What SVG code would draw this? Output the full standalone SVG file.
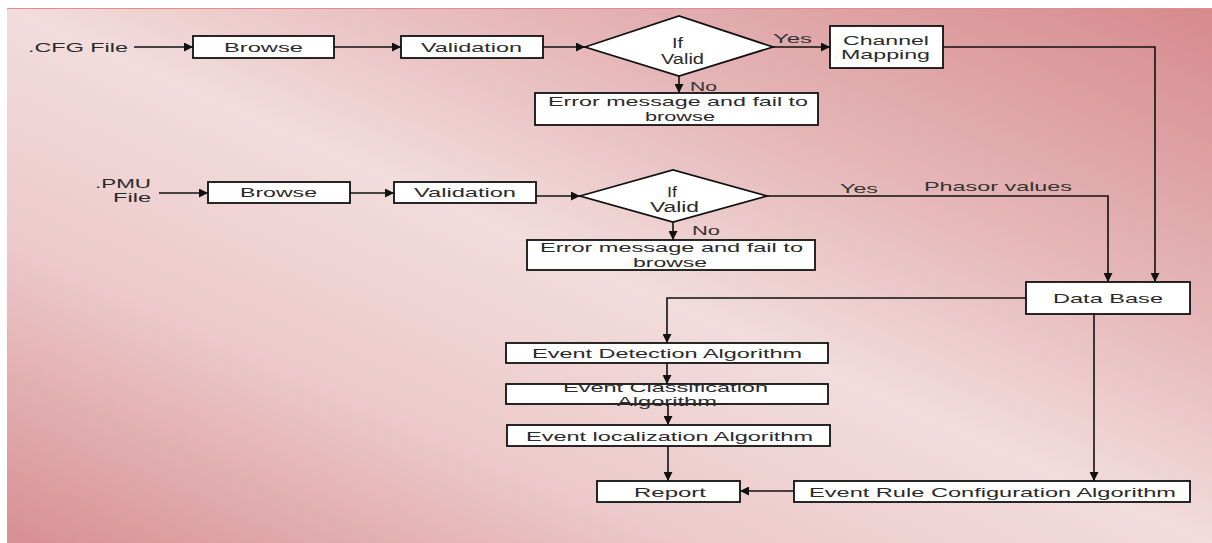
<svg xmlns="http://www.w3.org/2000/svg" width="1212" height="543" viewBox="0 0 1212 543">
<defs>
<linearGradient id="bg" x1="1" y1="0" x2="0" y2="1">
<stop offset="0" stop-color="#d68a8d"/>
<stop offset="0.3" stop-color="#e6b8b9"/>
<stop offset="0.5" stop-color="#f2dcdc"/>
<stop offset="0.72" stop-color="#ecc9ca"/>
<stop offset="1" stop-color="#d78f92"/>
</linearGradient>
<marker id="arr" viewBox="0 0 10 10" refX="10" refY="5" markerWidth="11" markerHeight="9" markerUnits="userSpaceOnUse" orient="auto">
<path d="M0,0 L10,5 L0,10 z" fill="#111"/>
</marker>
<style>
.box{fill:#fff;stroke:#111;stroke-width:1.8}
.conn{fill:none;stroke:#111;stroke-width:1.6}
text{font-family:"Liberation Sans",Arial,sans-serif;font-size:13px;fill:#2a2a2a}
.dia{font-size:14px}
.lbl{fill:#333}
</style>
</defs>
<rect x="0" y="0" width="1212" height="543" fill="#fff"/>
<rect x="7" y="8" width="1205" height="535" fill="url(#bg)"/>
<line x1="7" y1="8.5" x2="1212" y2="8.5" stroke="#df8d8f" stroke-width="1"/>

<g id="cfg-file"><text x="28" y="52" textLength="100" lengthAdjust="spacingAndGlyphs">.CFG File</text></g>
<g id="browse1"><rect class="box" x="193" y="36" width="141" height="22"/><text x="224" y="52" textLength="79" lengthAdjust="spacingAndGlyphs">Browse</text></g>
<g id="validation1"><rect class="box" x="401" y="36" width="142" height="22"/><text x="421" y="52" textLength="101" lengthAdjust="spacingAndGlyphs">Validation</text></g>
<g id="ifvalid1"><polygon class="box" points="585,47 679,16 773,47 679,76"/><text class="dia" x="672" y="48" textLength="11" lengthAdjust="spacingAndGlyphs">If</text><text class="dia" x="661" y="64" textLength="43" lengthAdjust="spacingAndGlyphs">Valid</text></g>
<g id="error1"><rect class="box" x="535" y="93" width="283" height="32"/><text x="548" y="106" textLength="260" lengthAdjust="spacingAndGlyphs">Error message and fail to</text><text x="645" y="121" textLength="70" lengthAdjust="spacingAndGlyphs">browse</text></g>
<g id="channel-mapping"><rect class="box" x="830" y="26" width="113" height="42"/><text x="843" y="45" textLength="86" lengthAdjust="spacingAndGlyphs">Channel</text><text x="841" y="59" textLength="89" lengthAdjust="spacingAndGlyphs">Mapping</text></g>

<g id="pmu-file"><text x="95" y="188" textLength="56" lengthAdjust="spacingAndGlyphs">.PMU</text><text x="113" y="202" textLength="38" lengthAdjust="spacingAndGlyphs">File</text></g>
<g id="browse2"><rect class="box" x="208" y="182" width="142" height="21"/><text x="240" y="197" textLength="77" lengthAdjust="spacingAndGlyphs">Browse</text></g>
<g id="validation2"><rect class="box" x="394" y="182" width="142" height="21"/><text x="414" y="197" textLength="102" lengthAdjust="spacingAndGlyphs">Validation</text></g>
<g id="ifvalid2"><polygon class="box" points="580,196 673,170 767,196 673,222"/><text class="dia" x="667" y="197" textLength="10" lengthAdjust="spacingAndGlyphs">If</text><text class="dia" x="650" y="212" textLength="49" lengthAdjust="spacingAndGlyphs">Valid</text></g>
<g id="error2"><rect class="box" x="527" y="240" width="288" height="30"/><text x="540" y="252" textLength="263" lengthAdjust="spacingAndGlyphs">Error message and fail to</text><text x="633" y="267" textLength="74" lengthAdjust="spacingAndGlyphs">browse</text></g>

<g id="database"><rect class="box" x="1026" y="282" width="164" height="32"/><text x="1053" y="303" textLength="110" lengthAdjust="spacingAndGlyphs">Data Base</text></g>
<g id="event-detection"><rect class="box" x="506" y="343" width="322" height="20"/><text x="532" y="358" textLength="270" lengthAdjust="spacingAndGlyphs">Event Detection Algorithm</text></g>
<g id="event-classification"><rect class="box" x="506" y="384" width="322" height="20"/><text x="563" y="392" textLength="205" lengthAdjust="spacingAndGlyphs">Event Classification</text><text x="617" y="406" textLength="100" lengthAdjust="spacingAndGlyphs">Algorithm</text></g>
<g id="event-localization"><rect class="box" x="507" y="425" width="323" height="21"/><text x="526" y="441" textLength="287" lengthAdjust="spacingAndGlyphs">Event localization Algorithm</text></g>
<g id="report"><rect class="box" x="597" y="481" width="143" height="21"/><text x="634" y="497" textLength="72" lengthAdjust="spacingAndGlyphs">Report</text></g>
<g id="event-rule"><rect class="box" x="794" y="481" width="396" height="21"/><text x="809" y="497" textLength="367" lengthAdjust="spacingAndGlyphs">Event Rule Configuration Algorithm</text></g>

<g id="connectors">
<path class="conn" d="M134,47 H193" marker-end="url(#arr)"/>
<path class="conn" d="M334,47 H401" marker-end="url(#arr)"/>
<path class="conn" d="M543,47 H585" marker-end="url(#arr)"/>
<path class="conn" d="M773,47 H830" marker-end="url(#arr)"/>
<path class="conn" d="M679,76 V93" marker-end="url(#arr)"/>
<path class="conn" d="M943,47 H1155 V282" marker-end="url(#arr)"/>
<path class="conn" d="M159,193 H208" marker-end="url(#arr)"/>
<path class="conn" d="M350,193 H394" marker-end="url(#arr)"/>
<path class="conn" d="M536,196 H580" marker-end="url(#arr)"/>
<path class="conn" d="M673,222 V240" marker-end="url(#arr)"/>
<path class="conn" d="M767,196 H1108 V282" marker-end="url(#arr)"/>
<path class="conn" d="M1026,298 H667 V343" marker-end="url(#arr)"/>
<path class="conn" d="M667,363 V384" marker-end="url(#arr)"/>
<path class="conn" d="M668,404 V425" marker-end="url(#arr)"/>
<path class="conn" d="M668,446 V481" marker-end="url(#arr)"/>
<path class="conn" d="M1094,314 V481" marker-end="url(#arr)"/>
<path class="conn" d="M794,491 H740" marker-end="url(#arr)"/>
<text class="lbl" x="773" y="43" textLength="39" lengthAdjust="spacingAndGlyphs">Yes</text>
<text class="lbl" x="690" y="91" textLength="27" lengthAdjust="spacingAndGlyphs">No</text>
<text class="lbl" x="692" y="235" textLength="28" lengthAdjust="spacingAndGlyphs">No</text>
<text class="lbl" x="840" y="193" textLength="38" lengthAdjust="spacingAndGlyphs">Yes</text>
<text class="lbl" x="924" y="191" textLength="148" lengthAdjust="spacingAndGlyphs">Phasor values</text>
</g>
</svg>
